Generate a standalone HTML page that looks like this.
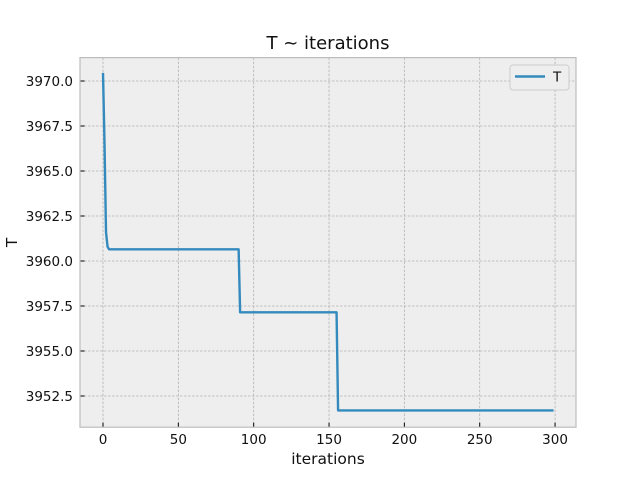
<!DOCTYPE html>
<html><head><meta charset="utf-8"><style>
body{margin:0;background:#fff;}
svg text{font-family:"DejaVu Sans","Liberation Sans",sans-serif;}
</style></head><body>
<svg id="c" width="640" height="480" xmlns="http://www.w3.org/2000/svg"></svg>
<script>
const xs=[0,1,2,3,4,90,91,155,156,299];
const ts=[3970.45,3966.5,3961.6,3960.8,3960.65,3960.65,3957.15,3957.15,3951.7,3951.7];
const xTicks=[0,50,100,150,200,250,300];
const yTicks=[3952.5,3955.0,3957.5,3960.0,3962.5,3965.0,3967.5,3970.0];
const L=80,R=576,T=57.6,B=427.2,x0=-15.27,x1=313.9,y0=3950.767,y1=3971.3;
const sx=v=>L+(v-x0)/(x1-x0)*(R-L);
const sy=v=>B-(v-y0)/(y1-y0)*(B-T);
const svg=document.getElementById('c');const NS='http://www.w3.org/2000/svg';
function mk(t,a,p){const e=document.createElementNS(NS,t);for(const k in a)e.setAttribute(k,a[k]);(p||svg).appendChild(e);return e;}
const bg=mk('rect',{x:L,y:T,width:R-L,height:B-T,fill:'#eeeeee'});


xTicks.forEach(v=>{const x=sx(v);
const g=mk('line',{x1:x,x2:x,y1:T,y2:B,stroke:'#b2b2b2','stroke-width':0.8,'stroke-dasharray':'2.5,1.5'});


mk('line',{x1:x,x2:x,y1:B,y2:B-4.5,stroke:'#000','stroke-width':1});
const t=mk('text',{x:x,y:B+17,'text-anchor':'middle','font-size':13.5,fill:'#111'});t.textContent=v;

});
yTicks.forEach(v=>{const y=sy(v);
const g=mk('line',{x1:L,x2:R,y1:y,y2:y,stroke:'#b2b2b2','stroke-width':0.8,'stroke-dasharray':'2.5,1.5'});


mk('line',{x1:L,x2:L+4.5,y1:y,y2:y,stroke:'#000','stroke-width':1});
const t=mk('text',{x:L-7,y:y+4.8,'text-anchor':'end','font-size':13.5,fill:'#111'});t.textContent=v.toFixed(1);

});
const sp=mk('rect',{x:L,y:T,width:R-L,height:B-T,fill:'none',stroke:'#bcbcbc','stroke-width':1.2});


const line=mk('polyline',{points:xs.map((v,i)=>sx(v)+','+sy(ts[i])).join(' '),fill:'none',stroke:'#348abd','stroke-width':2.4,'stroke-linejoin':'round'});


const lg=mk('rect',{x:510,y:65,width:59,height:25,rx:3,fill:'#eeeeee',stroke:'#cccccc','stroke-width':1});


mk('line',{x1:515,x2:545,y1:76.5,y2:76.5,stroke:'#348abd','stroke-width':2.4});
const lt=mk('text',{x:553,y:81.5,'font-size':13.5,fill:'#111'});lt.textContent='T';


const tt=mk('text',{x:(L+R)/2,y:49,'text-anchor':'middle','font-size':18,fill:'#111'});tt.textContent='T ~ iterations';


const xl=mk('text',{x:(L+R)/2,y:464,'text-anchor':'middle','font-size':15.5,fill:'#111'});xl.textContent='iterations';


const yl=mk('text',{x:17,y:(T+B)/2,'text-anchor':'middle','font-size':15.5,fill:'#111',transform:'rotate(-90 17 '+((T+B)/2)+')'});yl.textContent='T';


</script>
</body></html>
